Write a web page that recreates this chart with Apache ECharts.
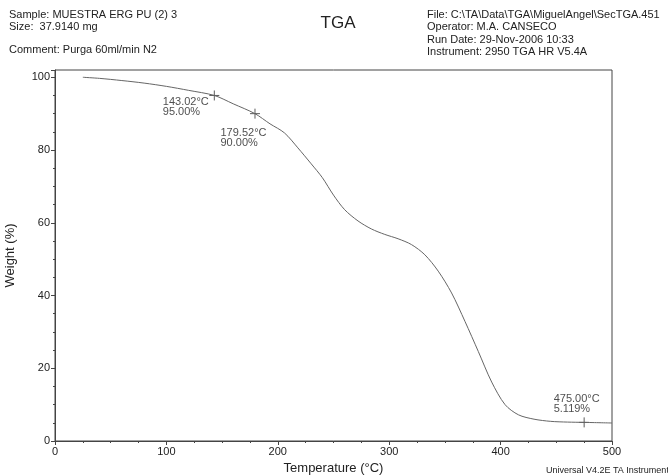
<!DOCTYPE html>
<html>
<head>
<meta charset="utf-8">
<script src="https://cdn.jsdelivr.net/npm/echarts@6/dist/echarts.min.js"></script>
<style>html,body{margin:0;padding:0;background:#fff}#c{width:668px;height:476px}</style>
</head>
<body>
<div id="c"></div>
<script>
var temps   = [25, 40, 60, 80, 100, 120, 143.02, 160, 179.52, 193, 206, 218, 230, 240, 250, 260, 272, 284, 296, 308, 320, 332, 344, 356, 368, 380, 392, 404, 416, 430, 445, 460, 475, 500];
var weights = [100, 99.7, 99.1, 98.4, 97.5, 96.4, 95.0, 92.7, 90.0, 87.2, 84.7, 80.6, 76.2, 72.4, 67.6, 63.6, 60.5, 58.3, 56.8, 55.6, 54.0, 51.2, 46.7, 40.7, 32.9, 24.6, 16.2, 10.0, 7.2, 6.0, 5.4, 5.2, 5.119, 4.95];
var markTemps   = [143.02, 179.52, 475.00];
var markWeights = [95.00, 90.00, 5.119];
var markLabels  = ['143.02°C\n95.00%', '179.52°C\n90.00%', '475.00°C\n5.119%'];
var xTicks = [0, 100, 200, 300, 400, 500];
var yTicks = [0, 20, 40, 60, 80, 100];

var labelPos = [[-44, 9], [-27, 22], [-23, -21]];
var lineData = temps.map(function (t, i) { return [t, weights[i]]; });
var markData = markTemps.map(function (t, i) {
  return { value: [t, markWeights[i]], label: { show: true, formatter: markLabels[i], position: labelPos[i] } };
});

var font = 'Liberation Sans, Arial, sans-serif';
var chart = echarts.init(document.getElementById('c'), null, { renderer: 'canvas' });
chart.setOption({
  animation: false,
  backgroundColor: '#fff',
  textStyle: { fontFamily: font },
  grid: { left: 55, right: 56, top: 70, bottom: 35, containLabel: false, outerBoundsMode: 'none', show: true, borderColor: '#444', borderWidth: 1, backgroundColor: 'transparent' },
  title: [
    { text: 'TGA', left: 333, top: 10, textAlign: 'center', textStyle: { fontSize: 17, fontWeight: 'normal', color: '#222', fontFamily: font } }
  ],
  graphic: [
    { type: 'text', left: 9, top: 9, style: { text: 'Sample: MUESTRA ERG PU (2) 3\nSize:  37.9140 mg', font: '11px ' + font, fill: '#222', lineHeight: 12 } },
    { type: 'text', left: 9, top: 44, style: { text: 'Comment: Purga 60ml/min N2', font: '11px ' + font, fill: '#222' } },
    { type: 'text', left: 427, top: 9, style: { text: 'File: C:\\TA\\Data\\TGA\\MiguelAngel\\SecTGA.451\nOperator: M.A. CANSECO\nRun Date: 29-Nov-2006 10:33\nInstrument: 2950 TGA HR V5.4A', font: '11px ' + font, fill: '#222', lineHeight: 12.3 } },
    { type: 'text', left: 546, top: 466, style: { text: 'Universal V4.2E TA Instruments', font: '9px ' + font, fill: '#222' } }
  ],
  xAxis: {
    type: 'value', min: 0, max: 500, interval: 100,
    name: 'Temperature (°C)', nameLocation: 'middle', nameGap: 21,
    nameTextStyle: { fontSize: 13, color: '#222', fontFamily: font },
    axisLine: { show: true, lineStyle: { color: '#444', width: 1 } },
    axisTick: { show: true, inside: false, length: 4, lineStyle: { color: '#444' } },
    minorTick: { show: true, splitNumber: 4, length: 2, lineStyle: { color: '#444' } },
    axisLabel: { fontSize: 11, color: '#222', margin: 5, formatter: function (v) { return xTicks.indexOf(v) >= 0 ? String(v) : ''; } },
    splitLine: { show: false }
  },
  yAxis: {
    type: 'value', min: 0, max: 102, interval: 20,
    name: 'Weight (%)', nameLocation: 'middle', nameGap: 38, nameRotate: 90,
    nameTextStyle: { fontSize: 13, color: '#222', fontFamily: font },
    axisLine: { show: true, lineStyle: { color: '#444', width: 1 } },
    axisTick: { show: true, inside: false, length: 4, lineStyle: { color: '#444' } },
    minorTick: { show: true, splitNumber: 4, length: 2, lineStyle: { color: '#444' } },
    axisLabel: { fontSize: 11, color: '#222', margin: 5, formatter: function (v) { return yTicks.indexOf(v) >= 0 ? String(v) : ''; } },
    splitLine: { show: false }
  },
  series: [
    { type: 'line', data: lineData, smooth: 0.3, showSymbol: false, lineStyle: { color: '#666', width: 1 } },
    { type: 'scatter', data: markData, symbol: 'path://M0,5L10,5M5,0L5,10', symbolSize: 10,
      itemStyle: { color: 'none', borderColor: '#333', borderWidth: 1 },
      label: { show: true, align: 'left', verticalAlign: 'top', fontSize: 11, lineHeight: 10, color: '#222', fontFamily: font } }
  ]
});
</script>
</body>
</html>
